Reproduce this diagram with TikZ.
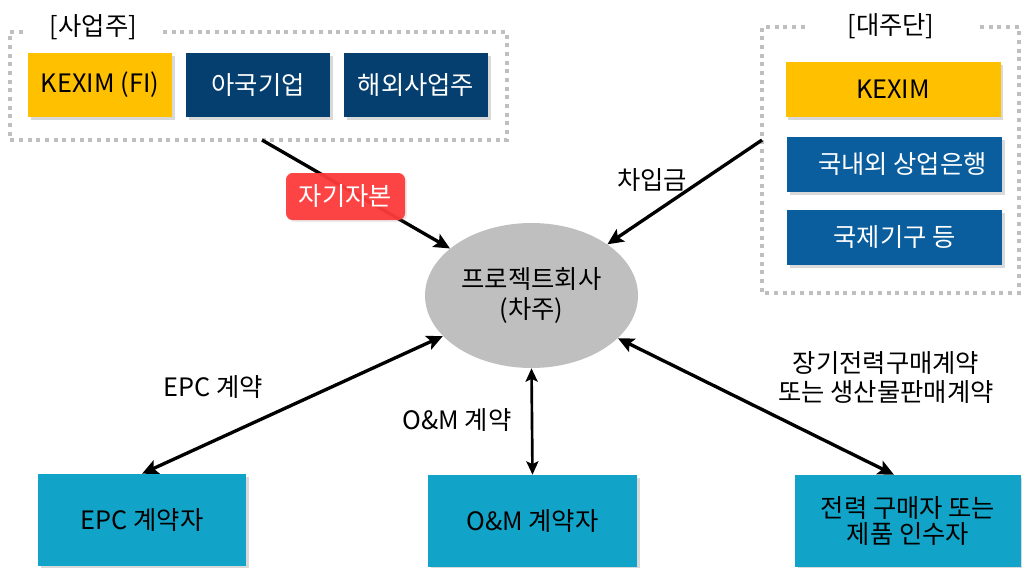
\documentclass[tikz,border=0pt]{standalone}
\usepackage{fontspec}
\setmainfont{Noto Sans CJK KR}
\usetikzlibrary{arrows.meta,shapes.geometric,shadows,calc}
\definecolor{kyellow}{HTML}{FFC000}
\definecolor{knavy}{HTML}{053F6F}
\definecolor{kblue}{HTML}{0B5E9E}
\definecolor{kteal}{HTML}{12A4C8}
\definecolor{kred}{HTML}{FF3A3A}
\definecolor{kgray}{HTML}{BFBFBF}
\begin{document}
\begin{tikzpicture}[x=0.75pt,y=-0.75pt,
  font=\fontsize{19}{22}\selectfont,
  boxbase/.style={rectangle, inner sep=0pt, align=center,
    drop shadow={shadow xshift=2pt,shadow yshift=-2.5pt,opacity=0.3}},
  ybox/.style={boxbase, fill=kyellow, text=black},
  nbox/.style={boxbase, fill=knavy, text=white},
  bbox/.style={boxbase, fill=kblue, text=white},
  tbox/.style={boxbase, fill=kteal, text=black},
  grp/.style={draw=kgray, line width=3pt, dash pattern=on 3pt off 3.5pt},
  lbl/.style={inner sep=0pt, align=center, text=black},
  arr/.style={line width=2.5pt, -{Stealth[length=12pt,width=11pt,inset=2.5pt]}},
  darr/.style={line width=2.5pt, {Stealth[length=12pt,width=11pt,inset=2.5pt]}-{Stealth[length=12pt,width=11pt,inset=2.5pt]}},
  varr/.style={line width=2pt, {Stealth[length=10pt,width=9pt,inset=2pt]}-{Stealth[length=10pt,width=9pt,inset=2pt]}}
]
\useasboundingbox (0,0) rectangle (1022,568);

% group frames
\draw[grp] (163,32) -- (507,32) -- (507,140) -- (10,140) -- (10,32) -- (25,32);
\draw[grp] (980,27) -- (1019,27) -- (1019,293) -- (762,293) -- (762,27) -- (805,27);
\node[lbl] (g1) at (93.5,27) {[사업주]};
\node[lbl] (g2) at (891,26) {[대주단]};

% sponsor boxes
\node[ybox, minimum width=108pt, minimum height=48pt] (kfi) at (100,85) {KEXIM (FI)};
\node[nbox, minimum width=108pt, minimum height=48pt] (dom) at (258,85) {아국기업};
\node[nbox, minimum width=108pt, minimum height=48pt] (ovs) at (416,85) {해외사업주};

% lender boxes
\node[ybox, minimum width=161.25pt, minimum height=41.25pt] (kex) at (893,89.5) {KEXIM};
\node[bbox, minimum width=161.25pt, minimum height=41.25pt] (bank) at (894.5,164.5) {\hspace*{12pt}국내외 상업은행};
\node[bbox, minimum width=161.25pt, minimum height=41.25pt] (intl) at (894.5,237) {국제기구 등};

% project company
\node[ellipse, fill=kgray, minimum width=159.75pt, minimum height=108.75pt, inner sep=0pt, align=center,
  font=\fontsize{19}{22.5}\selectfont] (ell) at (531.5,295.5) {프로젝트회사\\(차주)};

% bottom boxes
\node[tbox, minimum width=156pt, minimum height=69pt] (epc) at (142,520) {EPC 계약자};
\node[tbox, minimum width=156.75pt, minimum height=69pt] (om) at (532.5,521) {O\&M 계약자};
\node[tbox, minimum width=169.5pt, minimum height=69pt, font=\fontsize{19}{19}\selectfont] (buy) at (908,521) {전력 구매자 또는\\제품 인수자};

% arrow start points on the frames
\coordinate (ls) at (262,140);
\coordinate (rs) at (762,140);

% arrows
\draw[arr] (ls) -- (ell);
\draw[arr] (rs) -- (ell);
\draw[darr] (ell) -- (epc.north);
\draw[varr] (ell.south) -- (om.north);
\draw[darr] (ell) -- ($(buy.north)+(-14,0)$);

% labels
\node[rectangle, rounded corners=5pt, fill=kred, fill opacity=0.94, text opacity=1, text=white,
  minimum width=89.25pt, minimum height=35.25pt, inner sep=0pt,
  drop shadow={shadow xshift=1.5pt,shadow yshift=-1.5pt,opacity=0.15}] (eq) at (345.5,196.5) {자기자본};
\node[lbl] (loan) at (652,180) {차입금};
\node[lbl] (epcl) at (213,387) {EPC 계약};
\node[lbl] (oml) at (457,420) {O\&M 계약};
\node[lbl, font=\fontsize{19}{21.75}\selectfont] (ppa) at (886,377.5) {장기전력구매계약\\또는 생산물판매계약};
\end{tikzpicture}
\end{document}
